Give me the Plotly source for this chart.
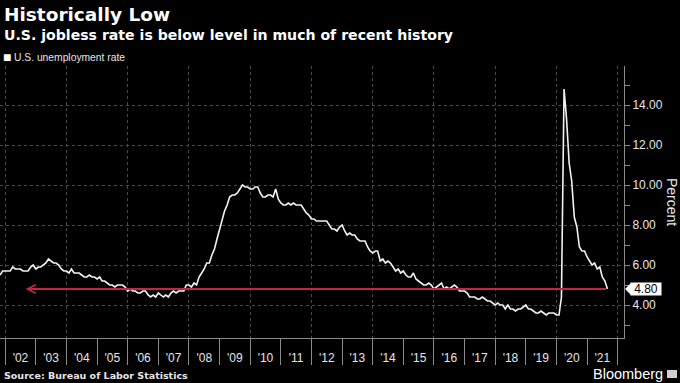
import pandas as pd
import plotly.graph_objects as go

# ---- data (monthly U.S. unemployment rate, %, Nov 2001 - Sep 2021) ----
start_month = "2001-11-01"
rate_2001 = [5.5, 5.7]
rate_2002 = [5.7, 5.7, 5.7, 5.9, 5.8, 5.8, 5.8, 5.7, 5.7, 5.7, 5.9, 6.0]
rate_2003 = [5.8, 5.9, 5.9, 6.0, 6.1, 6.3, 6.2, 6.1, 6.1, 6.0, 5.8, 5.7]
rate_2004 = [5.7, 5.6, 5.8, 5.6, 5.6, 5.6, 5.5, 5.4, 5.4, 5.5, 5.4, 5.4]
rate_2005 = [5.3, 5.4, 5.2, 5.2, 5.1, 5.0, 5.0, 4.9, 5.0, 5.0, 5.0, 4.9]
rate_2006 = [4.7, 4.8, 4.7, 4.7, 4.6, 4.6, 4.7, 4.7, 4.5, 4.4, 4.5, 4.4]
rate_2007 = [4.6, 4.5, 4.4, 4.5, 4.4, 4.6, 4.7, 4.6, 4.7, 4.7, 4.7, 5.0]
rate_2008 = [5.0, 4.9, 5.1, 5.0, 5.4, 5.6, 5.8, 6.1, 6.1, 6.5, 6.8, 7.3]
rate_2009 = [7.8, 8.3, 8.7, 9.0, 9.4, 9.5, 9.5, 9.6, 9.8, 10.0, 9.9, 9.9]
rate_2010 = [9.8, 9.8, 9.9, 9.9, 9.6, 9.4, 9.4, 9.5, 9.5, 9.4, 9.8, 9.3]
rate_2011 = [9.1, 9.0, 9.0, 9.1, 9.0, 9.1, 9.0, 9.0, 9.0, 8.8, 8.6, 8.5]
rate_2012 = [8.3, 8.3, 8.2, 8.2, 8.2, 8.2, 8.2, 8.0, 7.8, 7.8, 7.7, 7.9]
rate_2013 = [8.0, 7.7, 7.5, 7.6, 7.5, 7.5, 7.3, 7.2, 7.2, 7.2, 6.9, 6.7]
rate_2014 = [6.6, 6.7, 6.7, 6.2, 6.3, 6.1, 6.2, 6.1, 5.9, 5.7, 5.8, 5.6]
rate_2015 = [5.7, 5.5, 5.4, 5.4, 5.6, 5.3, 5.2, 5.1, 5.0, 5.0, 5.1, 5.0]
rate_2016 = [4.8, 4.9, 5.0, 5.1, 4.8, 4.9, 4.8, 4.9, 5.0, 4.9, 4.7, 4.7]
rate_2017 = [4.7, 4.6, 4.4, 4.4, 4.4, 4.3, 4.3, 4.4, 4.3, 4.2, 4.2, 4.1]
rate_2018 = [4.0, 4.1, 4.0, 4.0, 3.8, 4.0, 3.8, 3.8, 3.7, 3.8, 3.8, 3.9]
rate_2019 = [4.0, 3.8, 3.8, 3.7, 3.6, 3.6, 3.7, 3.6, 3.5, 3.6, 3.6, 3.6]
rate_2020 = [3.5, 3.5, 4.4, 14.8, 13.3, 11.1, 10.2, 8.4, 7.9, 6.9, 6.7, 6.7]
rate_2021 = [6.4, 6.2, 6.0, 6.1, 5.8, 5.9, 5.4, 5.2, 4.8]

year_labels = ["'02", "'03", "'04", "'05", "'06", "'07", "'08", "'09", "'10", "'11",
               "'12", "'13", "'14", "'15", "'16", "'17", "'18", "'19", "'20", "'21"]
year_label_dates = [f"{2002 + i}-07-02" for i in range(len(year_labels))]
arrow_tip_date = "2002-09-01"
x_range = ["2001-10-31", "2022-03-17"]
y_range = [2.35, 15.95]

rates = (rate_2001 + rate_2002 + rate_2003 + rate_2004 + rate_2005 + rate_2006 + rate_2007
         + rate_2008 + rate_2009 + rate_2010 + rate_2011 + rate_2012 + rate_2013 + rate_2014
         + rate_2015 + rate_2016 + rate_2017 + rate_2018 + rate_2019 + rate_2020 + rate_2021)
dates = pd.date_range(start_month, periods=len(rates), freq="MS")
latest = rates[-1]

RED = "#c0283f"
GRID = "#4a4a4a"
AXIS = "#8a8a8a"
TXT = "#e6e6e6"
FONT = "Liberation Sans, Arial, sans-serif"
BOLD = "DejaVu Sans, sans-serif"

fig = go.Figure()
fig.add_trace(go.Scatter(x=dates, y=rates, mode="lines",
                         line=dict(color="#f2f2f2", width=1.6),
                         showlegend=False, hoverinfo="skip"))
# invisible trace to carry the label axis
fig.add_trace(go.Scatter(x=dates, y=rates, mode="lines", xaxis="x2", opacity=0,
                         line=dict(width=0), showlegend=False, hoverinfo="skip"))

fig.update_layout(
    width=680, height=383,
    paper_bgcolor="#000000", plot_bgcolor="#000000",
    margin=dict(l=0, r=56, t=66, b=45),
    font=dict(family=FONT, color=TXT),
    xaxis=dict(
        type="date", range=x_range,
        tick0="2002-01-01", dtick="M24",
        showticklabels=False, ticks="outside", ticklen=26, tickcolor=AXIS, tickwidth=1,
        showgrid=True, gridcolor=GRID, griddash="dot", gridwidth=1,
        minor=dict(tick0="2002-01-01", dtick="M12", ticks="outside", ticklen=26,
                   tickcolor=AXIS, tickwidth=1, showgrid=False),
        showline=True, linecolor=AXIS, linewidth=1, zeroline=False,
    ),
    xaxis2=dict(
        type="date", range=x_range, overlaying="x", anchor="y", side="bottom",
        tickmode="array", tickvals=year_label_dates, ticktext=year_labels,
        ticks="outside", ticklen=9, tickcolor="rgba(0,0,0,0)",
        tickfont=dict(size=12, color=TXT, family=FONT),
        showgrid=False, showline=False, zeroline=False,
    ),
    yaxis=dict(
        side="right", range=y_range,
        tick0=0, dtick=2, tickformat=".2f",
        ticks="outside", ticklen=5, tickcolor=AXIS,
        tickfont=dict(size=12, color=TXT, family=FONT),
        minor=dict(dtick=1, tick0=0, ticks="outside", ticklen=5, tickcolor=AXIS, showgrid=False),
        showgrid=True, gridcolor=GRID, griddash="dot", gridwidth=1,
        showline=True, linecolor=AXIS, linewidth=1, zeroline=False,
    ),
)

annotations = [
    dict(text="<b>Historically Low</b>", xref="paper", yref="paper", x=0, y=1,
         xanchor="left", yanchor="middle", yshift=66 - 14, xshift=2, showarrow=False,
         font=dict(size=18.5, color="#ffffff", family=BOLD)),
    dict(text="<b>U.S. jobless rate is below level in much of recent history</b>",
         xref="paper", yref="paper", x=0, y=1, xanchor="left", yanchor="middle",
         yshift=66 - 35, xshift=2, showarrow=False,
         font=dict(size=14.1, color="#ffffff", family=BOLD)),
    dict(text="■", xref="paper", yref="paper", x=0, y=1,
         xanchor="left", yanchor="middle", yshift=66 - 57, xshift=1, showarrow=False,
         font=dict(size=14, color="#ffffff", family=FONT)),
    dict(text="U.S. unemployment rate", xref="paper", yref="paper", x=0, y=1,
         xanchor="left", yanchor="middle", yshift=66 - 57, xshift=12, showarrow=False,
         font=dict(size=10.3, color=TXT, family=FONT)),
    dict(text="<b>Source: Bureau of Labor Statistics</b>", xref="paper", yref="paper",
         x=0, y=0, xanchor="left", yanchor="middle", yshift=-(375 - 338), xshift=2,
         showarrow=False, font=dict(size=9.5, color=TXT, family=BOLD)),
    dict(text="Bloomberg", xref="paper", yref="paper", x=1, y=0, xanchor="left",
         yanchor="middle", xshift=591 - 624, yshift=-(374 - 338), showarrow=False,
         font=dict(size=14.5, color="#ffffff", family=FONT)),
    dict(text="Percent", xref="paper", yref="paper", x=1, y=0.5, xanchor="center",
         yanchor="middle", xshift=672 - 624, yshift=0, textangle=90,
         showarrow=False, font=dict(size=14, color=TXT, family=FONT)),
    dict(text="", x=arrow_tip_date, y=latest, ax=dates[-1], ay=latest,
         xref="x", yref="y", axref="x", ayref="y", showarrow=True,
         arrowhead=5, arrowsize=0.75, arrowwidth=2.2, arrowcolor=RED, standoff=0,
         startstandoff=0),
    dict(text=f"{latest:.2f}", xref="paper", yref="y", x=1, y=latest,
         xanchor="left", yanchor="middle", xshift=6, showarrow=False,
         bgcolor="#ffffff", width=30, height=12, borderpad=0,
         font=dict(size=12, color="#000000", family=FONT)),
]
fig.update_layout(annotations=annotations)

fig.add_shape(type="path", xref="paper", yref="y", xsizemode="pixel", ysizemode="pixel",
              xanchor=1, yanchor=latest, path="M1,0 L7,6 L7,-6 Z",
              fillcolor="#ffffff", line=dict(width=0), layer="above")
fig.add_shape(type="rect", xref="paper", yref="paper", xsizemode="pixel", ysizemode="pixel",
              xanchor=1, yanchor=0, x0=43, x1=53, y0=-40, y1=-32,
              fillcolor="#cfcfcf", line=dict(width=0), layer="above")

fig.write_html("out.html", config={"displayModeBar": False},
               post_script="document.body.style.margin='0';document.body.style.overflow='hidden';")
